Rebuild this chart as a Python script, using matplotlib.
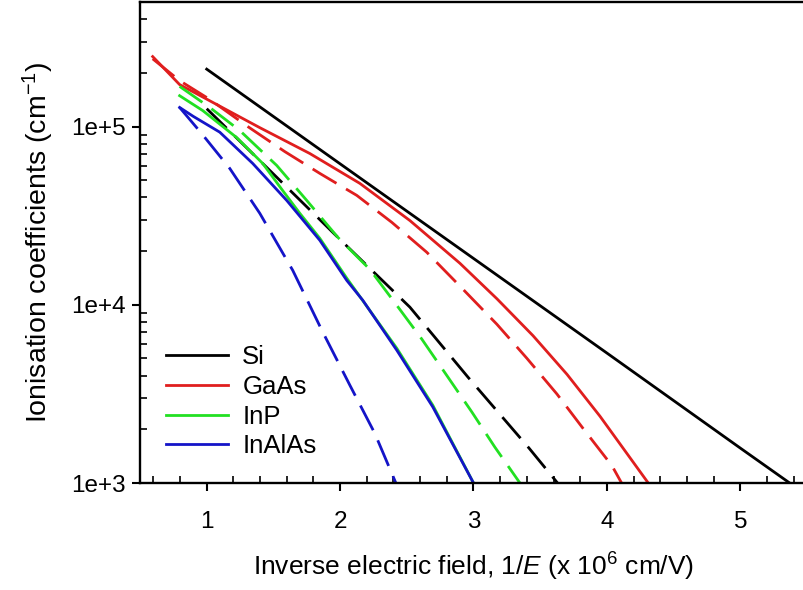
import numpy as np
import matplotlib
matplotlib.use('Agg')
import matplotlib.pyplot as plt
from matplotlib.ticker import MultipleLocator, LogLocator, FixedLocator, FuncFormatter

plt.rcParams['font.family'] = ['Liberation Sans', 'DejaVu Sans']
plt.rcParams['mathtext.fontset'] = 'custom'
plt.rcParams['mathtext.rm'] = 'Liberation Sans'
plt.rcParams['mathtext.it'] = 'Liberation Sans:italic'

# ionisation coefficients vs inverse field (1/E in 1e-6 cm/V), alpha = solid, beta = dashed
si_a_x = [1.0, 2.0, 3.0, 4.0, 5.0, 5.37]
si_a_y = [2.1e5, 6.18e4, 1.82e4, 5.36e3, 1.57e3, 1.0e3]
si_b_x = [1.0, 1.458, 1.983, 2.523, 2.958, 3.416, 3.63]
si_b_y = [1.26e5, 5.82e4, 2.39e4, 9.7e3, 3.93e3, 1.57e3, 1.0e3]

gaas_a_x = [0.595, 0.797, 1.398, 1.773, 2.148, 2.523, 2.898, 3.176, 3.446, 3.701, 3.948, 4.31]
gaas_a_y = [2.47e5, 1.72e5, 9.86e4, 7.06e4, 4.8e4, 2.97e4, 1.71e4, 1.08e4, 6.71e3, 4.07e3, 2.37e3, 1.0e3]
gaas_b_x = [0.595, 0.797, 1.023, 1.308, 1.585, 1.848, 2.125, 2.388, 2.650, 2.913, 3.175, 3.400, 3.625, 3.820, 4.038, 4.11]
gaas_b_y = [2.40e5, 1.81e5, 1.42e5, 1.0e5, 7.24e4, 5.46e4, 4.11e4, 2.90e4, 1.97e4, 1.24e4, 7.78e3, 5.01e3, 3.16e3, 2.03e3, 1.25e3, 1.0e3]

inp_a_x = [0.797, 0.970, 1.225, 1.420, 1.570, 1.698, 1.848, 2.050, 2.425, 2.695, 3.0]
inp_a_y = [1.49e5, 1.23e5, 8.67e4, 6.21e4, 4.37e4, 3.26e4, 2.36e4, 1.41e4, 5.7e3, 2.73e3, 1.0e3]
inp_b_x = [0.797, 1.023, 1.248, 1.525, 1.750, 1.983, 2.223, 2.425, 2.613, 2.808, 2.988, 3.160, 3.348]
inp_b_y = [1.68e5, 1.28e5, 9.5e4, 6.05e4, 3.85e4, 2.39e4, 1.58e4, 9.93e3, 6.41e3, 3.93e3, 2.50e3, 1.59e3, 1.0e3]

inalas_a_x = [0.797, 0.900, 1.098, 1.345, 1.600, 1.848, 2.050, 2.170, 2.425, 2.695, 3.0]
inalas_a_y = [1.28e5, 1.14e5, 9.3e4, 6.21e4, 3.85e4, 2.30e4, 1.37e4, 1.06e4, 5.56e3, 2.67e3, 1.0e3]
inalas_b_x = [0.797, 0.962, 1.173, 1.398, 1.645, 1.863, 2.073, 2.260, 2.418]
inalas_b_y = [1.28e5, 9.14e4, 5.82e4, 3.26e4, 1.56e4, 7.2e3, 3.54e3, 1.90e3, 1.0e3]

materials = ['Si', 'GaAs', 'InP', 'InAlAs']
colors = ['black', '#e01e1e', '#22e022', '#1414c8']
alpha_x = [si_a_x, gaas_a_x, inp_a_x, inalas_a_x]
alpha_y = [si_a_y, gaas_a_y, inp_a_y, inalas_a_y]
beta_x = [si_b_x, gaas_b_x, inp_b_x, inalas_b_x]
beta_y = [si_b_y, gaas_b_y, inp_b_y, inalas_b_y]

fig = plt.figure(figsize=(8.04, 5.90), dpi=100)
ax = fig.add_axes([140/804, 107/590, 667/804, 481/590])

lw = 2.0
handles = []
for name, c, xa, ya, xb, yb in zip(materials, colors, alpha_x, alpha_y, beta_x, beta_y):
    ax.plot(xb, yb, color=c, lw=lw, linestyle=(0, (10, 4)), solid_joinstyle='round')
    h, = ax.plot(xa, ya, color=c, lw=lw, label=name, solid_joinstyle='round')
    handles.append(h)

ax.set_yscale('log')
ax.set_xlim(0.5, 5.5)
ax.set_ylim(1e3, 5e5)

ax.xaxis.set_major_locator(FixedLocator([1, 2, 3, 4, 5]))
ax.xaxis.set_minor_locator(MultipleLocator(0.2))
ax.yaxis.set_major_locator(FixedLocator([1e3, 1e4, 1e5]))
ax.yaxis.set_minor_locator(LogLocator(subs=np.arange(2, 10)))
ax.yaxis.set_major_formatter(FuncFormatter(lambda v, p: '1e+%d' % round(np.log10(v))))
ax.yaxis.set_minor_formatter(FuncFormatter(lambda v, p: ''))

ax.tick_params(which='major', direction='out', length=6, width=1.5, labelsize=17.5)
ax.tick_params(axis='x', which='major', pad=14)
ax.tick_params(axis='y', which='major', pad=4)
ax.tick_params(which='minor', direction='in', length=5, width=1.2)
for s in ax.spines.values():
    s.set_linewidth(1.7)

ax.set_xlabel('Inverse electric field, $\\it{1/E}$ (x 10$^6$ cm/V)', fontsize=19, labelpad=13)
ax.set_ylabel('Ionisation coefficients (cm$^{-1}$)', fontsize=20.5, labelpad=11)

ax.legend(handles=handles, loc='lower left', bbox_to_anchor=(0.005, 0.003), frameon=False,
          fontsize=18.5, handlelength=2.4, handletextpad=0.55, labelspacing=0.22)

fig.savefig('out.png', dpi=100)
